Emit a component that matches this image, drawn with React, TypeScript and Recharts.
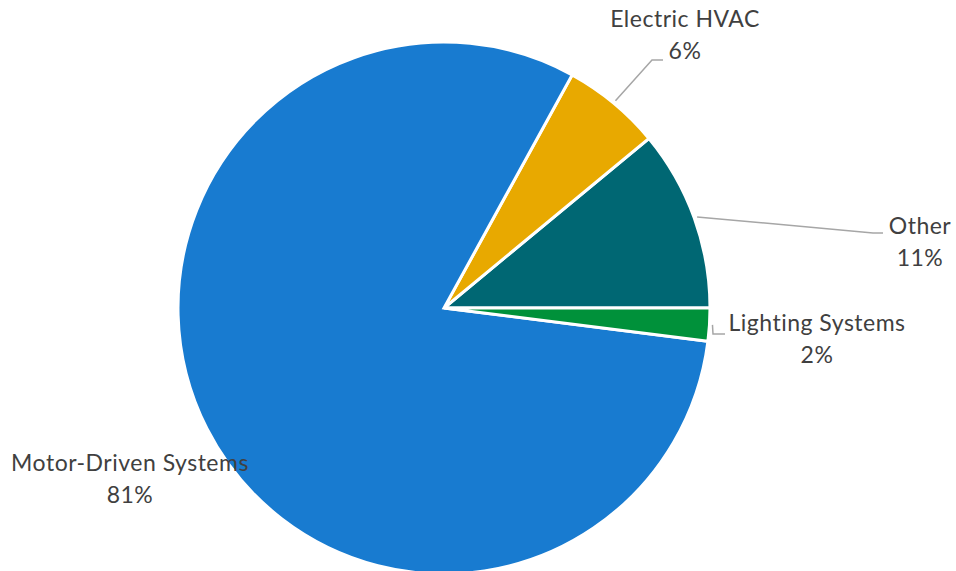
import React from "react";
import { PieChart, Pie, Cell } from "recharts";

const categories = ["Other", "Electric HVAC", "Motor-Driven Systems", "Lighting Systems"];
const shares = [11, 6, 81, 2];
const percentLabels = ["11%", "6%", "81%", "2%"];
const colors = ["#006773", "#E8A900", "#187BD0", "#00913A"];

const data = categories.map((name, i) => ({ name, value: shares[i], pct: percentLabels[i] }));

// label layout, offsets relative to pie centre
const labelLayout: Record<string, { tx: number; ty: number; line: number[][] | null }> = {
  "Electric HVAC": { tx: 241, ty: -281, line: [[208, -248], [219, -248]] },
  Other: { tx: 476, ty: -74, line: [[429, -75], [439, -75]] },
  "Lighting Systems": { tx: 373, ty: 23, line: [[269, 26], [281, 26]] },
  "Motor-Driven Systems": { tx: -314, ty: 163, line: null },
};

const RAD = Math.PI / 180;

const renderLabel = (props: any) => {
  const { cx, cy, midAngle, outerRadius, index } = props;
  const d = data[index];
  const lay = labelLayout[d.name];
  if (!lay) return null;
  const sx = cx + (outerRadius + 3) * Math.cos(-midAngle * RAD);
  const sy = cy + (outerRadius + 3) * Math.sin(-midAngle * RAD);
  const pts = lay.line ? [[sx, sy], ...lay.line.map(([x, y]) => [cx + x, cy + y])] : null;
  return (
    <g>
      {pts && (
        <polyline
          points={pts.map((p) => p.join(",")).join(" ")}
          fill="none"
          stroke="#A6A6A6"
          strokeWidth={1.5}
        />
      )}
      <text
        x={cx + lay.tx}
        y={cy + lay.ty}
        textAnchor="middle"
        fill="#404040"
        fontSize={23}
        letterSpacing={0.5}
        fontFamily="Lato, 'Open Sans', sans-serif"
      >
        <tspan x={cx + lay.tx} y={cy + lay.ty}>{d.name}</tspan>
        <tspan x={cx + lay.tx} y={cy + lay.ty + 32}>{d.pct}</tspan>
      </text>
    </g>
  );
};

export default function App() {
  return (
    <div style={{ position: "absolute", left: 0, top: 0, width: 956, height: 571, background: "#fff", overflow: "hidden" }}>
      <PieChart width={956} height={571} margin={{ top: 0, right: 0, bottom: 0, left: 0 }}>
        <Pie
          data={data}
          dataKey="value"
          nameKey="name"
          cx={444}
          cy={308}
          outerRadius={266}
          startAngle={0}
          endAngle={360}
          stroke="#FFFFFF"
          strokeWidth={3}
          labelLine={false}
          label={renderLabel}
          isAnimationActive={false}
        >
          {data.map((d, i) => (
            <Cell key={d.name} fill={colors[i]} />
          ))}
        </Pie>
      </PieChart>
    </div>
  );
}
